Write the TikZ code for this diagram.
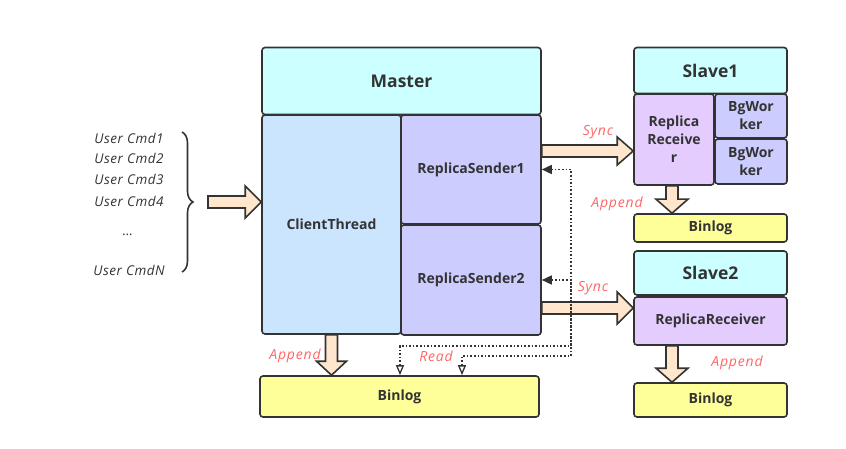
\documentclass[tikz,border=0pt]{standalone}
\usepackage{fontspec}
\setmainfont{Open Sans}
\newfontfamily\notefont[LetterSpace=6]{Open Sans}
\newfontfamily\cmdfont[LetterSpace=4]{Open Sans}
\usetikzlibrary{arrows.meta,calc,decorations.pathreplacing}
\definecolor{edge}{HTML}{333333}
\definecolor{headfill}{HTML}{CCFFFF}
\definecolor{clientfill}{HTML}{CCE5FF}
\definecolor{senderfill}{HTML}{CCCCFF}
\definecolor{recvfill}{HTML}{E5CCFF}
\definecolor{logfill}{HTML}{FFFF99}
\definecolor{fatfill}{HTML}{FFE6CC}
\definecolor{notered}{HTML}{FF6666}
% fat arrow to the right: from, to, half shaft, half head
\newcommand{\fatright}[4]{\draw[FatArrow] let \p1=(#1), \p2=(#2) in
  (\x1,\y1+#3) -- (\x2-16,\y1+#3) -- (\x2-16,\y1+#4) -- (\x2,\y1) --
  (\x2-16,\y1-#4) -- (\x2-16,\y1-#3) -- (\x1,\y1-#3) -- cycle;}
% fat arrow downwards: from, to, half shaft, half head
\newcommand{\fatdown}[4]{\draw[FatArrow] let \p1=(#1), \p2=(#2) in
  (\x1-#3,\y1) -- (\x1-#3,\y2+14) -- (\x1-#4,\y2+14) -- (\x1,\y2) --
  (\x1+#4,\y2+14) -- (\x1+#3,\y2+14) -- (\x1+#3,\y1) -- cycle;}
\begin{document}
\begin{tikzpicture}
    [x=1pt, y=-1pt,
    BoxNode/.style={rectangle, rounded corners=3pt, draw=edge, line width=1.6pt, inner sep=0pt,
      text=edge, align=center, font=\fontsize{14}{18}\selectfont\bfseries},
    HeadNode/.style={BoxNode, fill=headfill, font=\fontsize{17.5}{20}\selectfont\bfseries},
    ClientNode/.style={BoxNode, fill=clientfill},
    SenderNode/.style={BoxNode, fill=senderfill},
    RecvNode/.style={BoxNode, fill=recvfill},
    LogNode/.style={BoxNode, fill=logfill},
    FatArrow/.style={draw=edge, line width=1.6pt, fill=fatfill, line join=miter},
    ReadLine/.style={draw=edge, line width=1.6pt, dash pattern=on 1.6pt off 2pt,
      {Triangle[open, length=10pt, width=8pt, line width=1.3pt]}-{Triangle[length=10pt, width=9pt]}},
    NoteLabel/.style={text=notered, font=\fontsize{14}{16}\selectfont\notefont\itshape},
    CmdLabel/.style={text=edge, font=\fontsize{13.5}{16}\selectfont\cmdfont\itshape}]
     \useasboundingbox (0,0) rectangle (846,449);
     % master
     \node[HeadNode, minimum width=279pt, minimum height=67pt] (Master) at (401.5,81){Master};
     \node[ClientNode, minimum width=139pt, minimum height=219pt] (ClientThread) at (331.5,224.5){ClientThread};
     \node[SenderNode, minimum width=140pt, minimum height=109pt] (SenderA) at (471,169.5){ReplicaSender1};
     \node[SenderNode, minimum width=140pt, minimum height=110pt] (SenderB) at (471,280){ReplicaSender2};
     \node[LogNode, minimum width=279pt, minimum height=41pt] (MasterLog) at (399.5,396.5){Binlog};
     % slave1
     \node[HeadNode, minimum width=153pt, minimum height=46pt] (SlaveA) at (710.5,70.5){Slave1};
     \node[RecvNode, minimum width=80pt, minimum height=91pt] (ReceiverA) at (674,139.5){Replica\\Receive\\r};
     \node[SenderNode, minimum width=72pt, minimum height=44pt] (WorkerA) at (751,116){BgWor\\ker};
     \node[SenderNode, minimum width=72pt, minimum height=45pt] (WorkerB) at (751,161.5){BgWor\\ker};
     \node[LogNode, minimum width=153pt, minimum height=28pt] (SlaveLogA) at (710.5,228){Binlog};
     % slave2
     \node[HeadNode, minimum width=153pt, minimum height=44pt] (SlaveB) at (710.5,273){Slave2};
     \node[RecvNode, minimum width=153pt, minimum height=48pt] (ReceiverB) at (710.5,321){ReplicaReceiver};
     \node[LogNode, minimum width=153pt, minimum height=34pt] (SlaveLogB) at (710.5,400){Binlog};
     % user commands
     \node[CmdLabel] (CmdOne) at (129,138){User Cmd1};
     \node[CmdLabel] (CmdTwo) at (129,158){User Cmd2};
     \node[CmdLabel] (CmdThree) at (129,179){User Cmd3};
     \node[CmdLabel] (CmdFour) at (129,201){User Cmd4};
     \node[CmdLabel] (CmdDots) at (128,235){\dots};
     \node[CmdLabel] (CmdN) at (129,270){User CmdN};
     \draw[edge, line width=1.6pt, decorate, decoration={brace, amplitude=11pt}] (182,132) -- (182,272);
     \coordinate (InTail) at (208,202);
     % fat arrows
     \fatright{InTail}{ClientThread.west |- InTail}{6}{16}
     \fatright{SenderA.east |- 0,151}{ReceiverA.west |- 0,151}{6}{14}
     \fatright{SenderB.east |- 0,308}{ReceiverB.west |- 0,308}{6}{16}
     \fatdown{ClientThread.south}{MasterLog.north -| ClientThread.south}{6}{15}
     \fatdown{ReceiverA.south -| 672,0}{SlaveLogA.north -| 672,0}{6}{16}
     \fatdown{ReceiverB.south -| 672,0}{SlaveLogB.north -| 672,0}{6}{16}
     % read lines
     \coordinate (ReadA) at (571,346);
     \coordinate (ReadB) at (571,356);
     \draw[ReadLine] (MasterLog.north -| 400,0) |- (ReadA) |- (SenderA.east);
     \draw[ReadLine] (MasterLog.north -| 462,0) |- (ReadB) |- (SenderB.east);
     % labels
     \node[NoteLabel] (SyncLabelA) at (598,132){Sync};
     \node[NoteLabel] (AppendLabelA) at (617,204){Append};
     \node[NoteLabel] (SyncLabelB) at (593,288){Sync};
     \node[NoteLabel] (AppendLabel) at (295,356){Append};
     \node[NoteLabel] (ReadLabel) at (436,356){Read};
     \node[NoteLabel] (AppendLabelB) at (737,363){Append};
\end{tikzpicture}
\end{document}
